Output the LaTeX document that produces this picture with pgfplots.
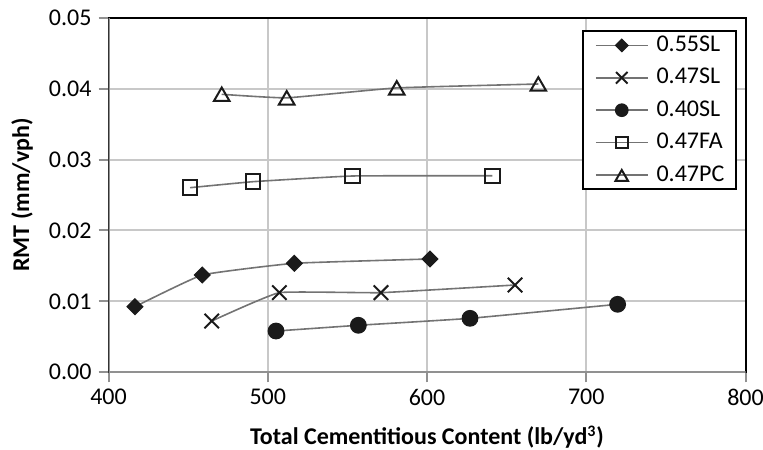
\documentclass[border=0pt]{standalone}
\usepackage{fontspec}
\setmainfont{Carlito}
\usepackage{pgfplots}
\pgfplotsset{compat=1.18}
\definecolor{gridgray}{RGB}{200,200,200}
\definecolor{axgray}{RGB}{145,145,145}
\definecolor{linegray}{RGB}{115,115,115}
\definecolor{mk}{RGB}{26,26,26}
\begin{document}
\begin{tikzpicture}
\begin{axis}[
  scale only axis, width=318.5pt, height=177.3pt,
  xmin=400, xmax=800, ymin=0, ymax=0.05,
  xtick={400,500,600,700,800},
  ytick={0,0.01,0.02,0.03,0.04,0.05},
  scaled y ticks=false,
  grid=major, major grid style={gridgray, line width=1pt},
  axis line style={black, line width=1pt},
  tick align=outside, xtick pos=left, ytick pos=left,
  major tick length=5pt, tick style={axgray, line width=1pt},
  font=\fontsize{12}{14}\selectfont,
  ticklabel style={font=\fontsize{12}{14}\selectfont},
  /pgf/number format/assume math mode=true,
  yticklabel style={/pgf/number format/.cd, fixed, fixed zerofill, precision=2},
  xlabel={\bfseries Total Cementitious Content (lb/yd\textsuperscript{3})},
  ylabel={\bfseries RMT (mm/vph)},
  xlabel style={at={(axis description cs:0.5,-0.205)}, anchor=base},
  ylabel style={at={(axis description cs:-0.1358,0.5)}, anchor=center},
  legend cell align=left,
  legend style={at={(axis description cs:1,1)}, anchor=north east, xshift=-4.1pt, yshift=-6.15pt,
    draw=black, line width=1pt, font=\fontsize{12}{14}\selectfont,
    inner xsep=6pt, inner ysep=1.2pt, row sep=4.2pt, column sep=4pt,
    nodes={inner sep=0pt, text height=9pt, text depth=3pt}},
  legend image code/.code={\draw[mark repeat=2,mark phase=2,#1, every mark/.append style={scale=0.8}] plot coordinates {(0pt,0pt) (13pt,0pt) (26pt,0pt)};},
  ser/.style={linegray, line width=0.8pt, smooth, tension=0.2},
]
\addplot[ser, mark=square*, mark size=2.76pt, mark options={rotate=45, draw=mk, fill=mk, line width=0.6pt}]
  coordinates {(416.6,0.00925) (458.9,0.01372) (516.7,0.01537) (601.9,0.01598)};
\addlegendentry{0.55SL}
\addplot[ser, mark=x, mark size=5.1pt, mark options={draw=mk, line width=1pt}]
  coordinates {(464.8,0.00723) (507.3,0.01123) (571.1,0.01123) (655.3,0.01231)};
\addlegendentry{0.47SL}
\addplot[ser, mark=*, mark size=3.9pt, mark options={draw=mk, fill=mk, line width=0.6pt}]
  coordinates {(505.2,0.00582) (556.9,0.00663) (627.0,0.00761) (719.7,0.00959)};
\addlegendentry{0.40SL}
\addplot[ser, mark=square, mark size=3.6pt, mark options={draw=mk, fill=white, line width=1pt}]
  coordinates {(451.2,0.02603) (490.9,0.02688) (553.2,0.02768) (641.0,0.02772)};
\addlegendentry{0.47FA}
\addplot[ser, mark=triangle, mark size=4.5pt, mark options={draw=mk, fill=white, line width=1pt, yshift=-1.1pt}]
  coordinates {(471.1,0.0392) (511.9,0.0387) (581.0,0.0401) (669.9,0.04065)};
\addlegendentry{0.47PC}
\draw[axgray, line width=1.6pt] (rel axis cs:0,1) -- (rel axis cs:0,0) -- (rel axis cs:1,0);
\coordinate (sw) at (rel axis cs:0,0);
\coordinate (ne) at (rel axis cs:1,1);
\end{axis}
\pgfresetboundingbox
\path ([shift={(-54.25pt,-38.35pt)}]sw) rectangle ([shift={(8.75pt,8.85pt)}]ne);
\end{tikzpicture}
\end{document}
